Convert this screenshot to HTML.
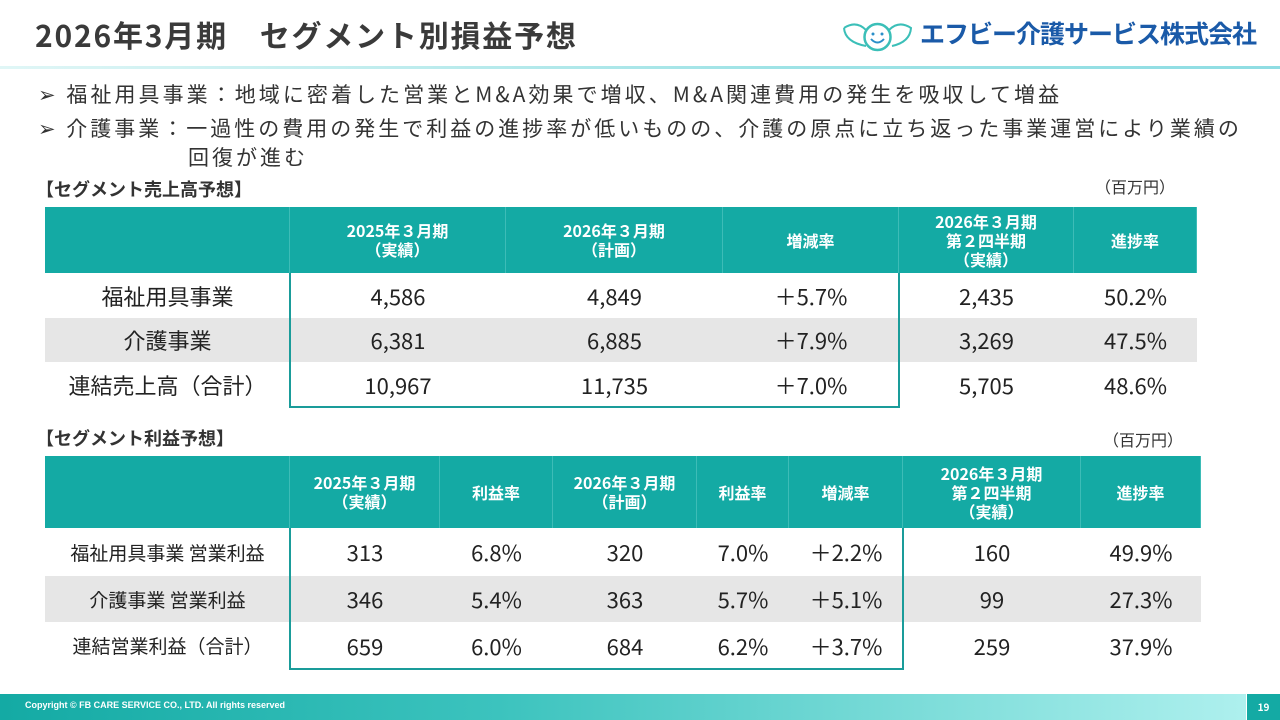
<!DOCTYPE html>
<html><head><meta charset="utf-8">
<style>
*{margin:0;padding:0;box-sizing:border-box}
body{width:1280px;height:720px;position:relative;background:#fff;font-family:"Noto Sans CJK JP","Liberation Sans",sans-serif;color:#333;overflow:hidden}
.a{position:absolute}
.cell{position:absolute;display:flex;align-items:center;justify-content:center;text-align:center}
.hd{background:#14aaa4;color:#fff;font-weight:bold;font-size:16px;line-height:19px;border-right:1px solid #3dbcb7}
.bd{font-size:22px;color:#222}
.gray{background:#e6e6e6}
.box{position:absolute;border:2.5px solid #1a9c9a;border-top:none;pointer-events:none}
</style></head><body>
<div class="a" style="left:35px;top:14px;font-size:30px;letter-spacing:1.8px;font-weight:bold;color:#3a3a3a;white-space:nowrap;line-height:40px">2026年3月期　セグメント別損益予想</div>
<div class="a" style="left:840px;top:18px;width:420px;height:36px">
<svg class="a" style="left:0;top:2px" width="75" height="34" viewBox="0 0 75 34"><path d="M4 8 Q16 0 26 10 M49 10 Q59 0 71 8 Q70 22 52 26 M26 26 Q5 22 4 8" stroke="#3bbfb8" stroke-width="2" fill="none"/><circle cx="37.5" cy="17" r="13" stroke="#3bbfb8" stroke-width="2.5" fill="#fff"/><circle cx="33" cy="14" r="1.5" fill="#2a8fc9"/><circle cx="42" cy="14" r="1.5" fill="#2a8fc9"/><path d="M31 19 Q37.5 26 44 19" stroke="#2a8fc9" stroke-width="2" fill="none"/></svg>
<div class="a" style="left:80px;top:-3px;font-size:25px;font-weight:bold;color:#1a5aa8;white-space:nowrap;letter-spacing:-1px">エフビー介護サービス株式会社</div></div>
<div class="a" style="left:0;top:66px;width:1280px;height:3px;background:linear-gradient(90deg,#e0f6f6,#9fe3e6 60%,#8fdde3)"></div>
<div class="a" style="left:38px;top:78px;font-size:21px;letter-spacing:3.05px;white-space:nowrap;line-height:32px">➢ 福祉用具事業：地域に密着した営業とM&amp;A効果で増収、M&amp;A関連費用の発生を吸収して増益</div>
<div class="a" style="left:38px;top:114px;font-size:21px;letter-spacing:3.0px;white-space:nowrap;line-height:29px">➢ 介護事業：一過性の費用の発生で利益の進捗率が低いものの、介護の原点に立ち返った事業運営により業績の<br><span style="padding-left:150px">回復が進む</span></div>
<div class="a" style="left:36px;top:176px;font-size:18px;font-weight:bold">【セグメント売上高予想】</div>
<div class="a" style="left:1095px;top:174px;font-size:16px">（百万円）</div>
<div class="a" style="left:36px;top:425px;font-size:18px;font-weight:bold">【セグメント利益予想】</div>
<div class="a" style="left:1103px;top:427px;font-size:16px">（百万円）</div>
<div id="t1"></div><div id="t2"></div>
<div class="a" style="left:0;top:694px;width:1246px;height:26px;background:linear-gradient(90deg,#14aaa4,#3cc3be 40%,#aef0ee)"></div>
<div class="a" style="left:1247px;top:694px;width:33px;height:26px;background:#14aaa4;color:#fff;font-size:10px;font-weight:bold;text-align:center;line-height:26px">19</div>
<div class="a" style="left:25px;top:700px;font-size:9px;font-weight:bold;color:#fff;font-family:'Liberation Sans',sans-serif">Copyright © FB CARE SERVICE CO., LTD. All rights reserved</div>
<script>
const salesCols=[45,290,506,723,899,1074,1197];
const salesHead=["","2025年３月期<br>（実績）","2026年３月期<br>（計画）","増減率","2026年３月期<br>第２四半期<br>（実績）","進捗率"];
const salesRowsY=[207,273,318,362,407];
const salesData=[["福祉用具事業","4,586","4,849","＋5.7%","2,435","50.2%"],["介護事業","6,381","6,885","＋7.9%","3,269","47.5%"],["連結売上高（合計）","10,967","11,735","＋7.0%","5,705","48.6%"]];
const profitCols=[45,290,440,553,697,789,903,1081,1201];
const profitHead=["","2025年３月期<br>（実績）","利益率","2026年３月期<br>（計画）","利益率","増減率","2026年３月期<br>第２四半期<br>（実績）","進捗率"];
const profitRowsY=[456,528,576,622,669];
const profitData=[["福祉用具事業 営業利益","313","6.8%","320","7.0%","＋2.2%","160","49.9%"],["介護事業 営業利益","346","5.4%","363","5.7%","＋5.1%","99","27.3%"],["連結営業利益（合計）","659","6.0%","684","6.2%","＋3.7%","259","37.9%"]];
function build(host,cols,head,ys,data,boxEndCol,lblSize,name){
  const h=document.getElementById(host);
  for(let c=0;c<head.length;c++){
    const d=document.createElement('div');d.className='cell hd';
    
    
    d.style.left=cols[c]+'px';d.style.width=(cols[c+1]-cols[c])+'px';
    d.style.top=ys[0]+'px';d.style.height=(ys[1]-ys[0])+'px';
    d.innerHTML=head[c];h.appendChild(d);
  }
  data.forEach((row,r)=>{
    if(r===1){const g=document.createElement('div');g.className='a gray';
      
      
      g.style.left=cols[0]+'px';g.style.width=(cols[cols.length-1]-cols[0])+'px';g.style.top=ys[2]+'px';g.style.height=(ys[3]-ys[2])+'px';h.appendChild(g);}
    row.forEach((v,c)=>{
      const d=document.createElement('div');d.className='cell bd';
      
      
      d.style.left=cols[c]+'px';d.style.width=(cols[c+1]-cols[c])+'px';
      d.style.top=ys[r+1]+'px';d.style.height=(ys[r+2]-ys[r+1])+'px';
      if(c===0)d.style.fontSize=lblSize+'px';
      d.textContent=v;h.appendChild(d);
    });
  });
  const b=document.createElement('div');b.className='box';
  
  
  b.style.left=(cols[1]-1)+'px';b.style.width=(cols[boxEndCol]-cols[1]+2)+'px';
  b.style.top=ys[1]+'px';b.style.height=(ys[4]-ys[1]+1)+'px';h.appendChild(b);
}
build('t1',salesCols,salesHead,salesRowsY,salesData,4,22,'sales-table');
build('t2',profitCols,profitHead,profitRowsY,profitData,6,19,'profit-table');
</script>
</body></html>
